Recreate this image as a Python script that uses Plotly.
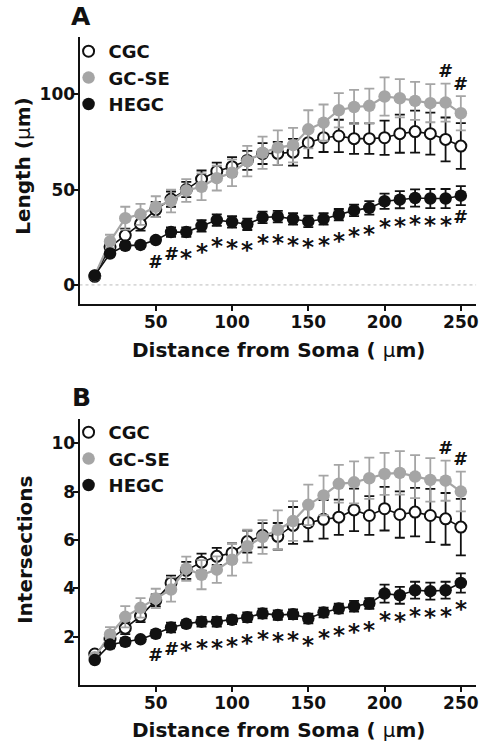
import plotly.graph_objects as go

W, H = 494, 749

# ---------------- data ----------------
distance = [10, 20, 30, 40, 50, 60, 70, 80, 90, 100, 110, 120, 130, 140, 150,
            160, 170, 180, 190, 200, 210, 220, 230, 240, 250]

# Panel A: dendrite length (um)
len_cgc = [4.5, 20, 26, 32, 39.5, 45, 50, 55.5, 59.6, 62, 65.3, 68.9, 69, 69.6, 74.6,
           77.2, 78.1, 76.7, 76.7, 77.2, 79.3, 80.4, 79.3, 76.3, 72.8]
len_cgc_sem = [1, 3, 3.5, 3.5, 4, 4, 4, 4.5, 4.5, 5, 5, 5.5, 6, 7, 8,
               7.5, 8.5, 8, 8, 9, 10, 11, 11, 11.5, 12]
len_gcse = [5, 22.8, 35, 37, 41, 44, 49.5, 51.5, 56, 58.8, 64.9, 69.3, 72, 73.3, 81.6,
            85.1, 91.6, 93.3, 93.9, 98.8, 97.9, 96.5, 95.3, 95.6, 90]
len_gcse_sem = [1.5, 3.5, 6, 5.5, 5.5, 6, 6, 7, 6.5, 7, 8, 8.5, 9, 9, 10,
                9.5, 9, 9, 9, 10, 10, 10, 10, 10, 9]
len_hegc = [5, 16.5, 20.5, 21, 23.5, 27.7, 27.7, 31, 34, 33, 31.8, 35.4, 35.8, 34.6, 33.3,
            34.6, 36.8, 39.1, 40.4, 43.9, 44.7, 45.6, 45.3, 45.3, 46.8]
len_hegc_sem = [1, 1.5, 1.5, 1.2, 1.5, 2.5, 2.5, 3, 3, 3, 3, 3, 3, 3, 3,
                3, 3, 3, 3.5, 4, 4.5, 4.5, 5, 5, 5]

# Panel B: intersections
int_cgc = [1.28, 1.9, 2.35, 2.85, 3.5, 4.22, 4.74, 5.08, 5.32, 5.46, 5.93, 6.19, 6.15, 6.6, 6.71,
           6.85, 6.94, 7.24, 7.01, 7.29, 7.05, 7.15, 7.01, 6.87, 6.53]
int_cgc_sem = [0.1, 0.15, 0.25, 0.25, 0.25, 0.3, 0.35, 0.35, 0.35, 0.4, 0.45, 0.5, 0.55, 0.76, 0.77,
               0.8, 0.73, 0.88, 0.8, 0.9, 0.96, 1.0, 1.1, 1.07, 1.17]
int_gcse = [1.15, 2.09, 2.82, 3.19, 3.58, 3.95, 4.81, 4.56, 4.77, 5.18, 5.74, 6.12, 6.42, 6.78, 7.45,
            7.84, 8.32, 8.38, 8.55, 8.73, 8.77, 8.62, 8.48, 8.45, 8.0]
int_gcse_sem = [0.1, 0.3, 0.44, 0.4, 0.4, 0.5, 0.5, 0.6, 0.55, 0.66, 0.68, 0.7, 0.8, 0.82, 0.84,
                0.82, 0.78, 0.87, 0.85, 0.87, 0.9, 0.89, 0.9, 0.83, 0.82]
int_hegc = [1.03, 1.67, 1.79, 1.89, 2.12, 2.38, 2.53, 2.62, 2.62, 2.7, 2.8, 2.96, 2.89, 2.93, 2.75,
            3.0, 3.16, 3.26, 3.37, 3.78, 3.71, 3.92, 3.88, 3.92, 4.22]
int_hegc_sem = [0.05, 0.15, 0.15, 0.08, 0.15, 0.2, 0.15, 0.2, 0.2, 0.18, 0.2, 0.2, 0.2, 0.2, 0.2,
                0.2, 0.2, 0.22, 0.22, 0.37, 0.35, 0.35, 0.35, 0.35, 0.4]

# significance marks (below HEGC, above GC-SE)
sig_hegc_A = ["", "", "", "", "#", "#"] + ["*"] * 18 + ["#"]
sig_hegc_B = ["", "", "", "", "#", "#"] + ["*"] * 19
sig_gcse_A = [""] * 23 + ["#", "#"]
sig_gcse_B = [""] * 23 + ["#", "#"]

group_names = ["CGC", "GC-SE", "HEGC"]
x_ticks = [50, 100, 150, 200, 250]
yA_ticks = [0, 50, 100]
yB_ticks = [2, 4, 6, 8, 10]

# ---------------- style ----------------
FONT = "DejaVu Sans"
GRAY = "#a5a5a5"
BLACK = "#111111"


def py(px):
    return 1 - px / H


def pxx(px):
    return px / W


fig = go.Figure()

panels = [
    ("x", "y", "legend", [len_cgc, len_gcse, len_hegc], [len_cgc_sem, len_gcse_sem, len_hegc_sem]),
    ("x2", "y2", "legend2", [int_cgc, int_gcse, int_hegc], [int_cgc_sem, int_gcse_sem, int_hegc_sem]),
]

styles = [
    dict(line=dict(color=BLACK, width=1.6),
         marker=dict(symbol="circle", size=11, color="white", line=dict(color=BLACK, width=2)),
         ecolor=BLACK),
    dict(line=dict(color=GRAY, width=2.2),
         marker=dict(symbol="circle", size=12.5, color=GRAY, line=dict(color=GRAY, width=0)),
         ecolor=GRAY),
    dict(line=dict(color=BLACK, width=1.6),
         marker=dict(symbol="circle", size=12.5, color=BLACK, line=dict(color=BLACK, width=0)),
         ecolor=BLACK),
]

for xa, ya, lg, means, sems in panels:
    for name, m, s, st in zip(group_names, means, sems, styles):
        fig.add_trace(go.Scatter(
            x=distance, y=m, name=name, mode="lines+markers",
            xaxis=xa, yaxis=ya, showlegend=False,
            line=st["line"], marker=st["marker"],
            error_y=dict(type="data", array=s, visible=True, color=st["ecolor"],
                         thickness=1.8, width=5),
        ))
    # legend entries (symbol only, like the reference key)
    for name, st in zip(group_names, styles):
        fig.add_trace(go.Scatter(
            x=[None], y=[None], name=name, mode="markers",
            xaxis=xa, yaxis=ya, legend=lg, showlegend=True,
            marker=st["marker"],
        ))

annotations = []
for xref, yref, hegc, hsem, marks, gcse, gsem, gmarks in [
    ("x", "y", len_hegc, len_hegc_sem, sig_hegc_A, len_gcse, len_gcse_sem, sig_gcse_A),
    ("x2", "y2", int_hegc, int_hegc_sem, sig_hegc_B, int_gcse, int_gcse_sem, sig_gcse_B),
]:
    for xv, yv, mk in zip(distance, hegc, marks):
        if not mk:
            continue
        star = mk == "*"
        annotations.append(dict(
            x=xv, y=yv, xref=xref, yref=yref, showarrow=False,
            text=("<b>*</b>" if star else "<b><i>#</i></b>"),
            font=dict(family=FONT, size=23 if star else 18, color=BLACK),
            yshift=-26 if star else -21, xanchor="center", yanchor="middle"))
    for xv, yv, sv, mk in zip(distance, gcse, gsem, gmarks):
        if not mk:
            continue
        annotations.append(dict(
            x=xv, y=yv + sv, xref=xref, yref=yref, showarrow=False,
            text="<b><i>#</i></b>",
            font=dict(family=FONT, size=18, color=BLACK),
            yshift=13, xanchor="center", yanchor="middle"))

# panel letters & axis titles
mu = "<span style='font-weight:normal'>μ</span>"
title_font = dict(family=FONT, size=20, color=BLACK)
annotations += [
    dict(x=pxx(81), y=py(16), xref="paper", yref="paper", text="<b>A</b>", showarrow=False,
         font=dict(family=FONT, size=25, color=BLACK), xanchor="center", yanchor="middle"),
    dict(x=pxx(82), y=py(397), xref="paper", yref="paper", text="<b>B</b>", showarrow=False,
         font=dict(family=FONT, size=25, color=BLACK), xanchor="center", yanchor="middle"),
    dict(x=pxx(280), y=py(350), xref="paper", yref="paper",
         text="<b>Distance from Soma ( " + mu + "m)</b>", showarrow=False,
         font=title_font, xanchor="center", yanchor="middle"),
    dict(x=pxx(280), y=py(730), xref="paper", yref="paper",
         text="<b>Distance from Soma ( " + mu + "m)</b>", showarrow=False,
         font=title_font, xanchor="center", yanchor="middle"),
    dict(x=pxx(23), y=py(166), xref="paper", yref="paper",
         text="<b>Length (" + mu + "m)</b>", showarrow=False, textangle=-90,
         font=title_font, xanchor="center", yanchor="middle"),
    dict(x=pxx(25), y=py(550), xref="paper", yref="paper",
         text="<b>Intersections</b>", showarrow=False, textangle=-90,
         font=title_font, xanchor="center", yanchor="middle"),
]

tick_font = dict(family=FONT, size=17, color=BLACK, weight="bold")
axis_common = dict(showline=True, linecolor=BLACK, linewidth=2, ticks="outside", ticklen=5,
                   tickwidth=2, tickcolor=BLACK, showgrid=False, zeroline=False,
                   tickfont=tick_font)

legend_font = dict(family=FONT, size=18, color=BLACK, weight="bold")

fig.update_layout(
    width=W, height=H, margin=dict(l=0, r=0, t=0, b=0),
    paper_bgcolor="white", plot_bgcolor="white",
    xaxis=dict(domain=[pxx(80), pxx(479)], range=[0, 260], tickvals=x_ticks, anchor="y",
               ticklabelstandoff=-3, **axis_common),
    yaxis=dict(domain=[py(304), py(37)], range=[-10, 130], tickvals=yA_ticks, anchor="x",
               ticklabelstandoff=-6, **axis_common),
    xaxis2=dict(domain=[pxx(80), pxx(479)], range=[0, 260], tickvals=x_ticks, anchor="y2",
                ticklabelstandoff=-3, **axis_common),
    yaxis2=dict(domain=[py(685), py(419)], range=[0, 11], tickvals=yB_ticks, anchor="x2",
                ticklabelstandoff=-6, **axis_common),
    legend=dict(x=pxx(69), y=py(33), xanchor="left", yanchor="top", bgcolor="rgba(0,0,0,0)",
                font=legend_font),
    legend2=dict(x=pxx(69), y=py(414), xanchor="left", yanchor="top", bgcolor="rgba(0,0,0,0)",
                 font=legend_font),
    annotations=annotations,
    shapes=[dict(type="line", xref="x domain", yref="y", x0=0, x1=1, y0=0, y1=0,
                 line=dict(color="#bbbbbb", width=1, dash="dot"), layer="below")],
)

# remove the browser's default 8 px page margin so the figure fills the window exactly
fig.write_html("out.html", config={"displayModeBar": False},
               post_script="document.body.style.margin='0';")
